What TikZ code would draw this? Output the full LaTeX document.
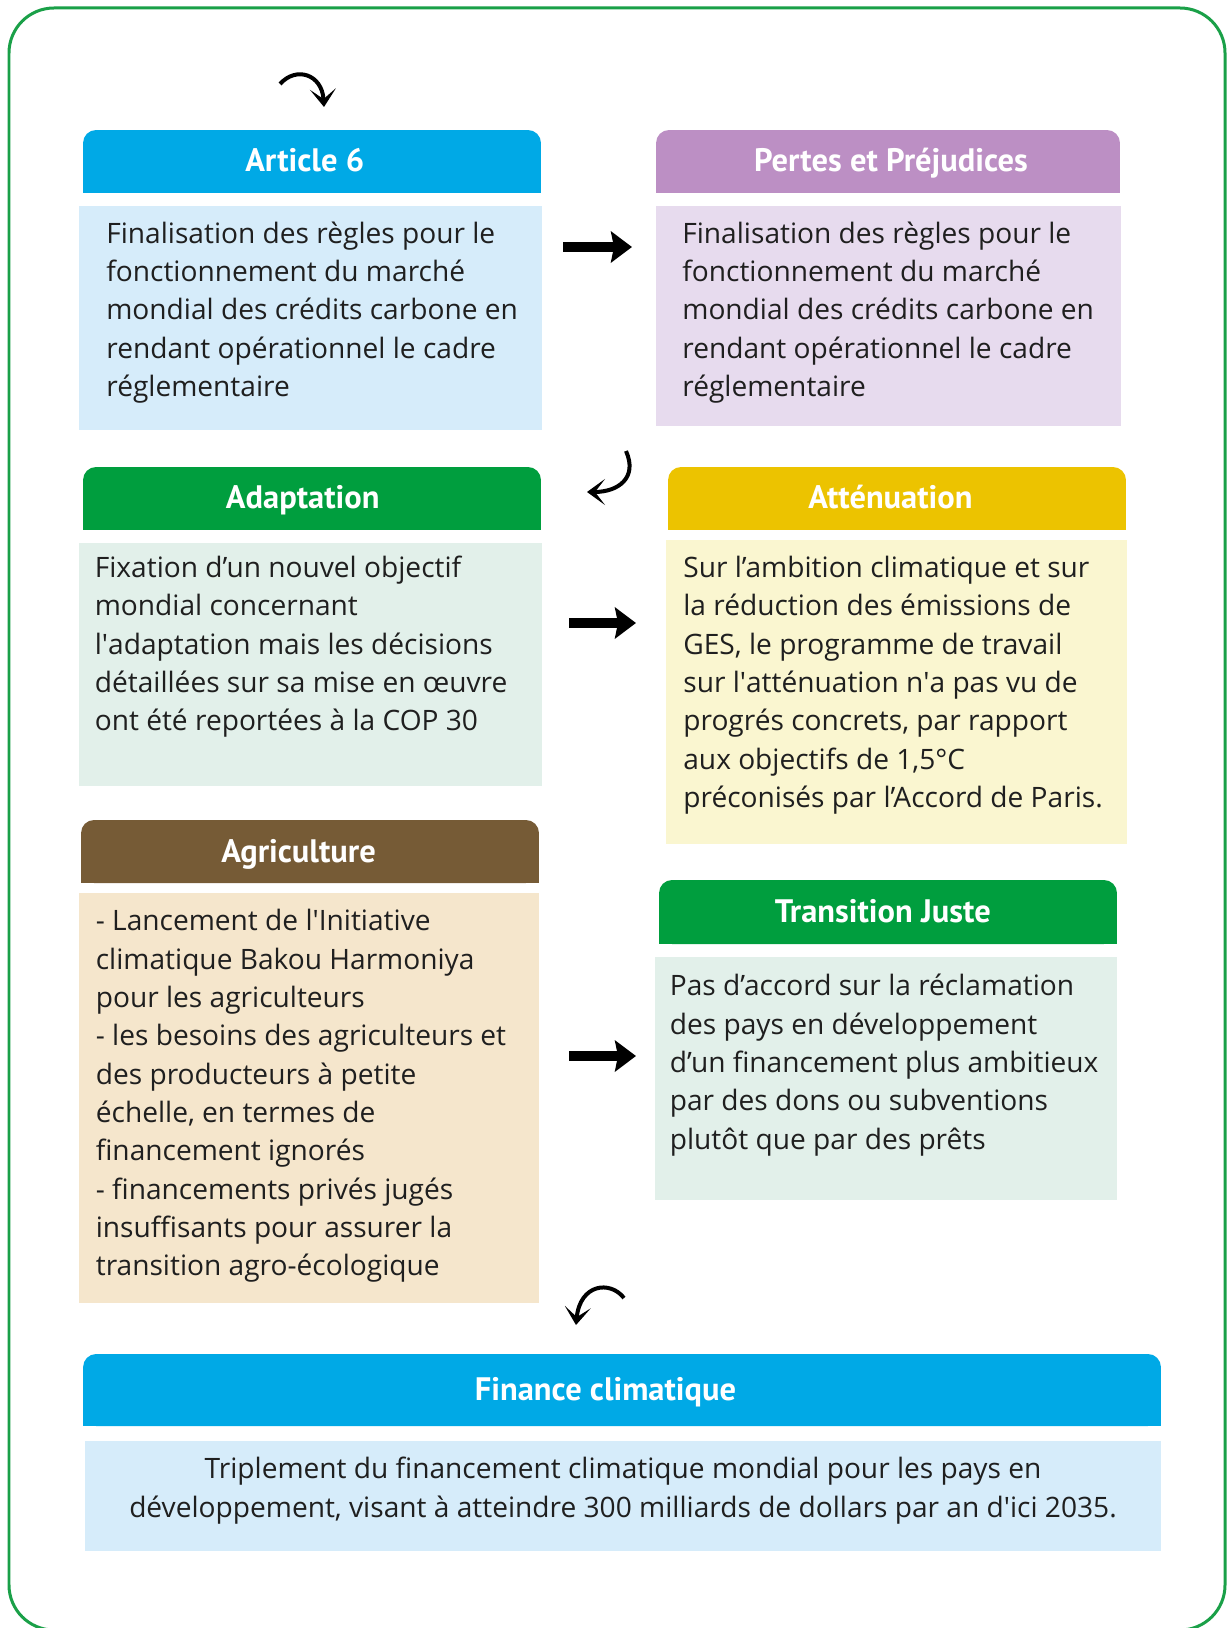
\documentclass[tikz,border=0pt]{standalone}
\usepackage{fontspec}
\setmainfont{Open Sans}
\newfontfamily\headfont{PT Sans}
\usetikzlibrary{arrows.meta,backgrounds}

\definecolor{frame}{RGB}{26,160,72}
\definecolor{blueh}{RGB}{0,169,230}
\definecolor{blueb}{RGB}{214,236,250}
\definecolor{purpleh}{RGB}{188,143,196}
\definecolor{purpleb}{RGB}{231,219,238}
\definecolor{greenh}{RGB}{0,158,62}
\definecolor{greenb}{RGB}{226,240,234}
\definecolor{yellowh}{RGB}{236,195,0}
\definecolor{yellowb}{RGB}{250,246,208}
\definecolor{brownh}{RGB}{118,91,54}
\definecolor{brownb}{RGB}{245,230,204}

\tikzset{
  head/.style={rounded corners=0.26cm, text=white, inner sep=0pt,
    font=\headfont\bfseries\fontsize{18.5}{22}\selectfont,
    text height=0.5cm, text depth=0.08cm,
    minimum width=9.16cm, minimum height=1.26cm},
  bodybox/.style={inner sep=0pt},
  % anchor base = baseline of the last line
  bodytxt/.style={anchor=base west, align=left, inner sep=0pt, text=black!88,
    font=\fontsize{16}{21.8}\selectfont},
  fatarrow/.style={line width=0.2cm, -{Stealth[length=0.42cm,width=0.62cm,inset=0.06cm]}},
  curlarrow/.style={line width=0.08cm, -{Stealth[length=0.36cm,width=0.52cm,inset=0.2cm]}},
}
\newcommand{\sq}{\textquotesingle}
% pad on the right, moves a title a little to the left
\newcommand{\padr}[1]{\hspace*{#1}}

\begin{document}
\begin{tikzpicture}[x=0.02cm,y=-0.02cm]
  \useasboundingbox (0,0) rectangle (1227,1628);
  % Frame
  \draw[frame, line width=0.06cm, rounded corners=0.9cm] (9,8) rectangle (1225,1630);

  % Headers
  \node[head, fill=blueh] (arthd) at (312,161.5) {Article 6\padr{0.29cm}};
  \node[head, fill=purpleh, minimum width=9.28cm] (perhd) at (888,161.5) {\padr{0.12cm}Pertes et Préjudices};
  \node[head, fill=greenh] (adahd) at (312,498.5) {Adaptation\padr{0.37cm}};
  \node[head, fill=yellowh] (atthd) at (897,498.5) {Atténuation\padr{0.26cm}};
  \node[head, fill=brownh] (agrhd) at (310,851.5) {Agriculture\padr{0.46cm}};
  \node[head, fill=greenh, minimum height=1.28cm] (trahd) at (888,912) {Transition Juste\padr{0.21cm}};
  \node[head, fill=blueh, minimum width=21.56cm, minimum height=1.44cm] (finhd) at (622,1390) {Finance climatique\padr{0.66cm}};
  % square off the lower corners
  \begin{scope}[on background layer]
    \foreach \h/\c in {arthd/blueh, perhd/purpleh, adahd/greenh, atthd/yellowh,
                       agrhd/brownh, trahd/greenh, finhd/blueh}
      \fill[\c] (\h.south west) rectangle (\h.east);
  \end{scope}

  % Boxes
  \node[bodybox, fill=blueb, minimum width=9.26cm, minimum height=4.48cm] (artbox) at (310.5,318) {};
  \node[bodybox, fill=purpleb, minimum width=9.30cm, minimum height=4.40cm] (perbox) at (888.5,316) {};
  \node[bodybox, fill=greenb, minimum width=9.26cm, minimum height=4.86cm] (adabox) at (310.5,664.5) {};
  \node[bodybox, fill=yellowb, minimum width=9.22cm, minimum height=6.08cm] (attbox) at (896.5,692) {};
  \node[bodybox, fill=brownb, minimum width=9.20cm, minimum height=8.20cm] (agrbox) at (309,1098) {};
  \node[bodybox, fill=greenb, minimum width=9.24cm, minimum height=4.86cm] (trabox) at (886,1078.5) {};
  \node[bodybox, fill=blueb, minimum width=21.52cm, minimum height=2.20cm] (finbox) at (623,1496) {};

  % Texts
  \node[bodytxt] (arttxt) at (106,396.6) {Finalisation des règles pour le\\fonctionnement du marché\\mondial des crédits carbone en\\rendant opérationnel le cadre\\réglementaire};
  \node[bodytxt] (pertxt) at (682,396.6) {Finalisation des règles pour le\\fonctionnement du marché\\mondial des crédits carbone en\\rendant opérationnel le cadre\\réglementaire};
  \node[bodytxt] (adatxt) at (94.5,730.6) {Fixation d’un nouvel objectif\\mondial concernant\\l\sq adaptation mais les décisions\\détaillées sur sa mise en œuvre\\ont été reportées à la COP 30};
  \node[bodytxt] (atttxt) at (683,807.4) {Sur l’ambition climatique et sur\\la réduction des émissions de\\GES, le programme de travail\\sur l\sq atténuation n\sq a pas vu de\\progrés concrets, par rapport\\aux objectifs de 1,5°C\\préconisés par l’Accord de Paris.};
  \node[bodytxt] (agrtxt) at (95.5,1275.6) {- Lancement de l\sq Initiative\\climatique Bakou Harmoniya\\pour les agriculteurs\\- les besoins des agriculteurs et\\des producteurs à petite\\échelle, en termes de\\financement ignorés\\- financements privés jugés\\insuffisants pour assurer la\\transition agro-écologique};
  \node[bodytxt] (tratxt) at (669.5,1149.1) {Pas d’accord sur la réclamation\\des pays en développement\\d’un financement plus ambitieux\\par des dons ou subventions\\plutôt que par des prêts};
  \node[bodytxt, anchor=base, align=center] (fintxt) at (623,1517) {Triplement du financement climatique mondial pour les pays en\\développement, visant à atteindre 300 milliards de dollars par an d\sq ici 2035.};

  % Arrows
  \foreach \n/\xa/\xb/\y in {a/563/632/247, b/569/636/623, c/569/636/1056} {
    \coordinate (\n s) at (\xa,\y);
    \coordinate (\n e) at (\xb,\y);
    \draw[fatarrow] (\n s) -- (\n e);
  }
  \coordinate (c1s) at (280,84);  \coordinate (c1e) at (324,107);
  \coordinate (c2s) at (626,451); \coordinate (c2e) at (587,492);
  \coordinate (c3s) at (624,1298); \coordinate (c3e) at (576,1325);
  \draw[curlarrow] (c1s) .. controls (296,66) and (322,74) .. (c1e);
  \draw[curlarrow] (c2s) .. controls (638,478) and (618,492) .. (c2e);
  \draw[curlarrow] (c3s) .. controls (610,1280) and (580,1284) .. (c3e);
\end{tikzpicture}
\end{document}
